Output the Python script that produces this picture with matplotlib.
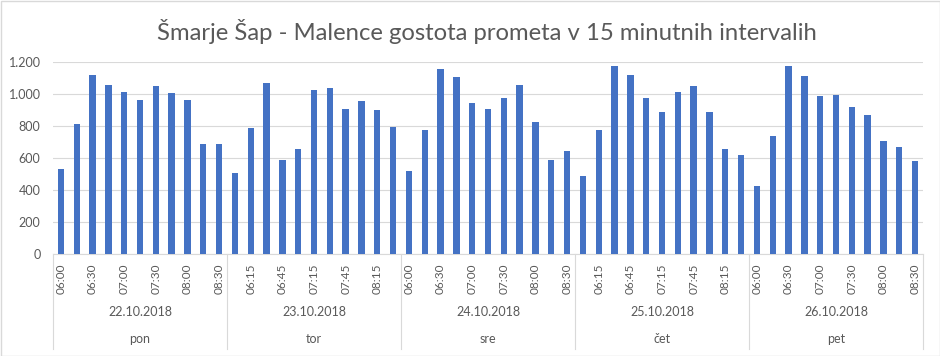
import numpy as np
import matplotlib
matplotlib.use('Agg')
import matplotlib.pyplot as plt
from matplotlib.patches import Rectangle

# data
days = ['22.10.2018', '23.10.2018', '24.10.2018', '25.10.2018', '26.10.2018']
weekdays = ['pon', 'tor', 'sre', 'čet', 'pet']
times = ['06:00', '06:15', '06:30', '06:45', '07:00', '07:15',
         '07:30', '07:45', '08:00', '08:15', '08:30']
pon = [532, 814, 1121, 1058, 1012, 964, 1052, 1008, 964, 689, 689]
tor = [507, 789, 1071, 589, 657, 1027, 1039, 908, 958, 902, 795]
sre = [520, 776, 1158, 1108, 945, 908, 977, 1058, 826, 589, 645]
cet = [488, 776, 1177, 1121, 977, 889, 1014, 1052, 889, 657, 620]
pet = [426, 739, 1177, 1114, 989, 995, 920, 870, 707, 670, 582]

values = pon + tor + sre + cet + pet
labels = times * len(days)
n = len(times)

GRAY = '#595959'
plt.rcParams['font.family'] = ['Lato', 'DejaVu Sans']

fig = plt.figure(figsize=(9.4, 3.56), dpi=100)
W, H = 940, 356
ax = fig.add_axes([53 / W, 1 - 254 / H, 870 / W, 192 / H])

x = np.arange(len(values))
ax.bar(x, values, width=0.4, color='#4472C4', zorder=3)

ax.set_xlim(-0.5, len(values) - 0.5)
ax.set_ylim(0, 1200)
ax.set_yticks(range(0, 1201, 200))
ax.set_yticklabels([f'{v:,}'.replace(',', '.') for v in range(0, 1201, 200)],
                   fontsize=9, color=GRAY)
ax.tick_params(axis='y', length=0, pad=9)
ax.grid(axis='y', color='#d9d9d9', linewidth=0.8, zorder=0)
for s in ['top', 'right', 'left']:
    ax.spines[s].set_visible(False)
ax.spines['bottom'].set_color('#d9d9d9')
ax.spines['bottom'].set_linewidth(0.8)

ax.set_xticks(x[::2])
ax.set_xticklabels(labels[::2], rotation=90, fontsize=8.5, color=GRAY)
ax.tick_params(axis='x', length=0, pad=7)

# multi-level category axis: dates, weekdays and separators
tr = ax.get_xaxis_transform()
def ypix(p):
    return (254 - p) / 192

for i, (d, w) in enumerate(zip(days, weekdays)):
    mid = i * n + (n - 1) / 2
    ax.text(mid, ypix(312), d, transform=tr, ha='center', va='center',
            fontsize=9, color=GRAY)
    ax.text(mid, ypix(339), w, transform=tr, ha='center', va='center',
            fontsize=9, color=GRAY)
for i in range(len(days) + 1):
    ax.plot([i * n - 0.5] * 2, [0, ypix(349)], transform=tr, color='#d9d9d9',
            linewidth=0.8, clip_on=False)

fig.text(487 / W, 1 - 31 / H, 'Šmarje Šap - Malence gostota prometa v 15 minutnih intervalih',
         ha='center', va='center', fontsize=17.2, color=GRAY)

fig.patches.append(Rectangle((0.5 / W, 0.5 / H), (W - 1) / W, (H - 1) / H,
                             transform=fig.transFigure, fill=False,
                             edgecolor='#d9d9d9', linewidth=1))

fig.savefig('out.png', dpi=100)
